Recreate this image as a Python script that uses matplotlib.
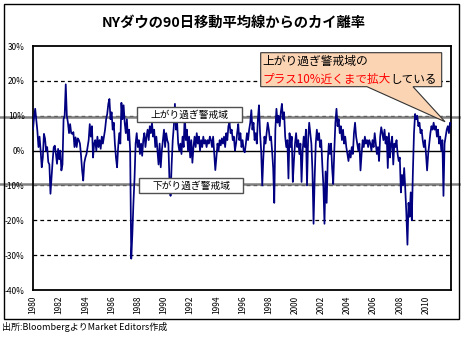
import matplotlib
matplotlib.use('Agg')
import matplotlib.pyplot as plt
import matplotlib.transforms as mtrans
from matplotlib.patches import Rectangle, Polygon
import numpy as np

plt.rcParams['font.family'] = ['Noto Sans CJK JP', 'DejaVu Sans']

W, H = 461, 337

title = 'NYダウの90日移動平均線からのカイ離率'
source = '出所:BloombergよりMarket Editors作成'
upper_label = '上がり過ぎ警戒域'
lower_label = '下がり過ぎ警戒域'
note_line1 = '上がり過ぎ警戒域の'
note_red = 'プラス10%近くまで拡大'
note_black = 'している'

start_year = 1980
year_ticks = list(range(1980, 2011, 2))
y_ticks = [-40, -30, -20, -10, 0, 10, 20, 30]
grid_levels = [20, 10, -10, -20, -30]
warn_levels = [9.7, -9.6]

# monthly deviation from 90-day MA (%)
dev_1980_84 = [6, 9.6, 12, 9, 5.7, 1, 4, 0, -4.8, -2, 4.8, 3.5, 0, 1, -3.3,
               -4, -12.4, -7.6, -2.9, 1, 1.4, -1, -3.8, 0.5, -2.5, 0, -5.7, -4,
               9, 10, 19, 10, 8, 5, 7.6, 5, 4.8, 5.3, 1, 3.8, 1, 3.5, 3, 2,
               -1.4, -5.7, -8.6, -3.5, -2, -1, 1, 3, 7.6, 4]
dev_1984_88 = [7, -2, 2, 3, 0, 4, 1, 3, 0.5, 4, 2, 4, 6, 9, 10.5, 13.4, 14.8,
               9, 11, 6, 8, 2, -2, -4.8, 1, 5, 2, 13.7, 9, 13, 8, 5, 9, 3, 6,
               0, -31, -24, -15, -8, 2, 5, 1, 3, -1, 2, -1.5, 3, 5, 1, 4, 6, 3, 7]
dev_1989_93 = [5, 8, 4, 6, 1, 4, 0, -4, 2, -4.8, 0, 3, 6, 1, 5, 3, 2, -8.6,
               -13, -4, 3, 7, 13.4, 6, 8, 2, 0, 2, -1, 4, 1, 10.5, 3, 6, 0, 4,
               -2, 3, -3.5, 1, 4, 1, 5, 2, 4, 0, 3, 1, 4, 2, 3, 1, 3, 2, 4]
dev_1993_98 = [3, 1, 4, -1, -5.6, -2, 2, 0, 3, 1.5, 3.5, 2, 4, 1, 5, 3, 7, 8,
               5, 6, 3, 4, 0, 2, 5, 7.6, 3, 5, 1, 3, 0, -0.5, 2, 5, 3, 6, 8,
               11.6, 6, 8, 3, 5, 2, 9, 13, 5, 0, -10, -2, 4, 2, 5, 8, 6, 3]
dev_1998_02 = [4, 0, -5, -15, 6, 12, 8, 10, 7, 11, 13.4, 9, 11, 4, 1, 3, -8,
               5, 1, 4, -9, -3, 2, 5, 1, 3, -1, 2, -9, 0, 4, 1, 6, -10, 3, 8,
               5, 2, -6, -21, -8, 2, 6, 3, 5, 1, 3, -4, -10, -21, -6, -15, -3,
               2, -1]
dev_2002_07 = [2, -5, -9.6, 0, 8, 12, 7, 9, 5, 7, 3, 6, 2, 4, 1, -1, -3, 0,
               -2, 1, -1, 5, 8, 4, 2, 0, 2, -5.7, -1, 3, 1, 4, 2, 3, 1, 3, 2,
               0, 3, 1, 5, 2, -1, 1, -3, 4, 6.7, 5, 3, 6, 2, 4, -5, 5, -2]
dev_2007_11 = [2, 4, -4, 2, 1, 3, -1, -3, -2, -12, -7, -10, -5, -11, -18, -27,
               -15, -19, -12, -20, -6, 5, 10.5, 9, 10, 7, 8, 5, 6, 3, 1, 3, -1,
               -5.7, -1, 2, 5, 7, 6, 8, 6, 7, 4, 6, 2, 4, 0, 3, -13, 2, 4, 6,
               7, 5, 8, 7.5]

deviation = (dev_1980_84 + dev_1984_88 + dev_1989_93 + dev_1993_98
             + dev_1998_02 + dev_2002_07 + dev_2007_11)
years = start_year + np.arange(len(deviation)) / 12


def fx(px):
    return px / W


def fy(py):
    return 1 - py / H


fig = plt.figure(figsize=(W / 100, H / 100), dpi=100)
ax = fig.add_axes([fx(33), fy(290), (451 - 33) / W, (290 - 46) / H])

# grid and warning lines
for v in grid_levels:
    ax.axhline(v, color='black', lw=0.9, ls=(0, (3, 2.5)), zorder=1)
ax.axhline(0, color='black', lw=1.0, zorder=1)
trans = mtrans.blended_transform_factory(fig.transFigure, ax.transData)
for v in warn_levels:
    ax.plot([0, fx(459)], [v, v], transform=trans, color='#808080', lw=1.8,
            clip_on=False, zorder=1.5)

ax.plot(years, deviation, color='#000080', lw=1.25, zorder=3)

ax.set_xlim(1980, 1980 + 418 / 13.1)
ax.set_ylim(-40, 30)
ax.set_yticks(y_ticks)
ax.set_yticklabels([f'{v}%' for v in y_ticks], fontsize=6)
ax.set_xticks(year_ticks)
ax.set_xticklabels([str(y) for y in year_ticks], fontsize=6, rotation=90)
ax.tick_params(axis='y', length=0, pad=6)
ax.tick_params(axis='x', length=0, pad=4)
for s in ax.spines.values():
    s.set_linewidth(1.3)
    s.set_color('black')

# title and source
fig.text(fx(234), fy(23), title, ha='center', va='center', fontsize=10.3,
         fontweight='bold')
fig.text(fx(2), fy(327), source, ha='left', va='center', fontsize=6.5)

# warning zone label boxes
for (x0, x1, y0, y1), lbl in [((137, 242, 107, 122), upper_label),
                              ((139, 243, 178, 193), lower_label)]:
    fig.add_artist(Rectangle((fx(x0), fy(y1)), (x1 - x0) / W, (y1 - y0) / H,
                             transform=fig.transFigure, fc='white',
                             ec='#505050', lw=1.0, zorder=2))
    fig.text(fx((x0 + x1) / 2), fy((y0 + y1) / 2), lbl, ha='center',
             va='center', fontsize=7, zorder=3)

# callout
callout_px = [(260.7, 52.7), (441.7, 52.7), (441.7, 86.7), (413, 86.7),
              (445, 121.7), (367, 86.7), (260.7, 86.7)]
fig.add_artist(Polygon([(fx(x), fy(y)) for x, y in callout_px], closed=True,
                       transform=fig.transFigure, fc='#FBD4B4', ec='#333333',
                       lw=0.8, zorder=2))
fig.text(fx(262), fy(65), note_line1, ha='left', va='baseline', fontsize=8.5,
         zorder=3)
t_red = fig.text(fx(262), fy(83), note_red, ha='left', va='baseline',
                 fontsize=8.4, color='red', zorder=3)
fig.canvas.draw()
bb = t_red.get_window_extent()
fig.text(bb.x1 / fig.bbox.width, fy(83), note_black, ha='left',
         va='baseline', fontsize=8.4, zorder=3)

# outer frame
fig.add_artist(Rectangle((fx(4), fy(319)), (459 - 4) / W, (319 - 4) / H,
                         transform=fig.transFigure, fill=False, ec='black',
                         lw=1.0, zorder=4))

fig.savefig('out.png', dpi=100)
